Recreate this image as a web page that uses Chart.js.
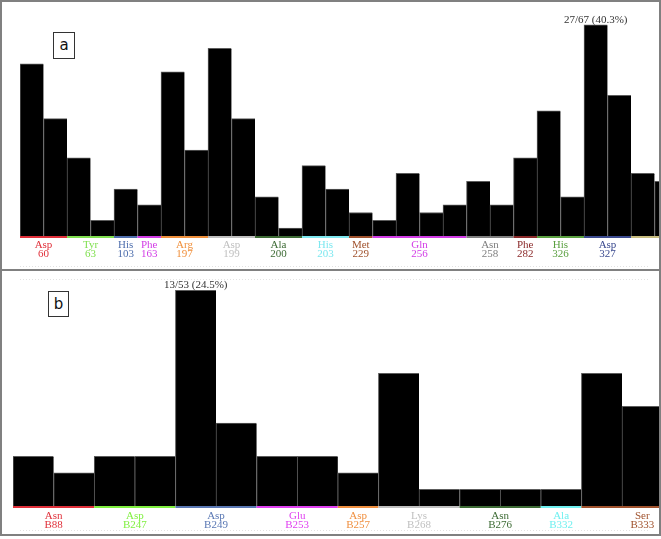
<!DOCTYPE html>
<html>
<head>
<meta charset="utf-8">
<script src="https://cdn.jsdelivr.net/npm/chart.js@4"></script>
<style>
  html, body { margin: 0; padding: 0; background: #fff; overflow: hidden; }
  body { width: 661px; height: 539px; position: relative; }
  .clip { position: absolute; left: 0; width: 661px; overflow: hidden; }
  .clip canvas { position: absolute; left: 0; top: 0; }
  .frame { position: absolute; left: 0; width: 661px; box-sizing: border-box; border: 2px solid #808080; pointer-events: none; }
  .tag { position: absolute; box-sizing: border-box; border: 1px solid #333; background: #fff;
         font: 15px "DejaVu Sans", sans-serif; color: #111; text-align: center; }
</style>
</head>
<body>
<div class="clip" style="top:0;height:269px"><canvas id="chartA" width="700" height="270"></canvas></div>
<div class="clip" style="top:270px;height:265px"><canvas id="chartB" width="680" height="266"></canvas></div>
<div class="frame" style="top:0;height:271px"></div>
<div class="frame" style="top:269px;height:267px"></div>
<div class="tag" style="left:53px;top:32px;width:22px;height:27px;line-height:25px">a</div>
<div class="tag" style="left:48px;top:291px;width:21px;height:26px;line-height:24px">b</div>
<script>
// Panel a: Anzahl pro Balken
const valuesA = [22, 15, 10, 2, 6, 4, 21, 11, 24, 15, 5, 1, 9, 6, 3, 2, 8, 3, 4, 7, 4, 10, 16, 5, 27, 18, 8, 7];
const binsA = valuesA.map((_, i) => 'a' + (i + 1));
const resA = ['Asp', 'Tyr', 'His', 'Phe', 'Arg', 'Asp', 'Ala', 'His', 'Met', 'Gln', 'Asn', 'Phe', 'His', 'Asp', ''];
const numA = ['60', '63', '103', '163', '197', '199', '200', '203', '229', '256', '258', '282', '326', '327', ''];
const spanA = [2, 2, 1, 1, 2, 2, 2, 2, 1, 4, 2, 1, 2, 2, 4];
const colorA = ['#e0303a', '#80e050', '#4f6fae', '#d23ce6', '#f0903c', '#c0c0c0', '#3d6b35', '#7ee8f0',
                '#a0522d', '#d23ce6', '#7f7f7f', '#8b2a2a', '#5aa040', '#3b4a8f', '#c8bd80'];
const peakA = [24, '27/67 (40.3%)'];

// Panel b
const valuesB = [3, 2, 3, 3, 13, 5, 3, 3, 2, 8, 1, 1, 1, 1, 8, 6];
const binsB = valuesB.map((_, i) => 'b' + (i + 1));
const resB = ['Asn', 'Asp', 'Asp', 'Glu', 'Asp', 'Lys', 'Asn', 'Ala', 'Ser'];
const numB = ['B88', 'B247', 'B249', 'B253', 'B257', 'B268', 'B276', 'B332', 'B333'];
const spanB = [2, 2, 2, 2, 1, 2, 2, 1, 3];
const colorB = ['#e0303a', '#80f040', '#5a78b4', '#e040f0', '#f09040', '#c0c0c0', '#3d6b35', '#70f0f0', '#a0522d'];
const peakB = [4, '13/53 (24.5%)'];

// Gruppen-Beschriftung unter den Balken + Spitzenwert
const groupPlugin = {
  id: 'groups',
  afterDatasetsDraw(chart, args, opts) {
    const { ctx, chartArea, scales } = chart;
    const x = scales.x, y = scales.y;
    const half = (x.getPixelForValue(1) - x.getPixelForValue(0)) / 2;
    ctx.save();

    // feine gepunktete Linien
    ctx.strokeStyle = '#e2e2e2';
    ctx.lineWidth = 1;
    ctx.setLineDash([1, 2]);
    opts.dotted.forEach(yy => {
      ctx.beginPath();
      ctx.moveTo(20, yy + 0.5);
      ctx.lineTo(650, yy + 0.5);
      ctx.stroke();
    });
    ctx.setLineDash([]);

    let start = 0;
    opts.spans.forEach((span, i) => {
      const end = start + span - 1;
      const x0 = x.getPixelForValue(start) - half;
      const x1 = x.getPixelForValue(end) + half;
      ctx.strokeStyle = opts.colors[i];
      ctx.lineWidth = 2;
      ctx.beginPath();
      ctx.moveTo(x0, chartArea.bottom + 1);
      ctx.lineTo(x1, chartArea.bottom + 1);
      ctx.stroke();

      const cx = (x0 + x1) / 2;
      ctx.fillStyle = opts.colors[i];
      ctx.font = '11px "Liberation Serif", serif';
      ctx.textAlign = 'center';
      ctx.textBaseline = 'middle';
      ctx.fillText(opts.names[i], cx, chartArea.bottom + opts.dy[0]);
      ctx.fillText(opts.nums[i], cx, chartArea.bottom + opts.dy[1]);
      start += span;
    });

    const [pi, ptext] = opts.peak;
    const meta = chart.getDatasetMeta(0).data[pi];
    ctx.fillStyle = '#333';
    ctx.font = '11px "Liberation Serif", serif';
    ctx.textAlign = 'center';
    ctx.textBaseline = 'middle';
    ctx.fillText(ptext, meta.x, meta.y - 5);
    ctx.restore();
  }
};

function makeChart(id, labels, values, max, padding, groupOpts) {
  const ctx = document.getElementById(id).getContext('2d');
  return new Chart(ctx, {
    type: 'bar',
    data: {
      labels,
      datasets: [{
        data: values,
        backgroundColor: '#000',
        borderColor: '#5c5c5c',
        borderWidth: { top: 1, left: 1, right: 0, bottom: 0 },
        barPercentage: 1,
        categoryPercentage: 1
      }]
    },
    options: {
      responsive: false,
      animation: false,
      devicePixelRatio: 1,
      layout: { padding },
      plugins: {
        legend: { display: false },
        tooltip: { enabled: false },
        groups: groupOpts
      },
      scales: {
        x: { display: false, grid: { display: false } },
        y: { display: false, min: 0, max, grid: { display: false } }
      }
    },
    plugins: [groupPlugin]
  });
}

makeChart('chartA', binsA, valuesA, 28, { left: 20, right: 22, top: 17, bottom: 34 }, {
  spans: spanA, names: resA, nums: numA, colors: colorA, peak: peakA, dy: [9, 18], dotted: [266]
});

makeChart('chartB', binsB, valuesB, 13.5, { left: 13, right: 17.4, top: 12, bottom: 30 }, {
  spans: spanB, names: resB, nums: numB, colors: colorB, peak: peakB, dy: [9.7, 19.3], dotted: [9, 260]
});
</script>
</body>
</html>
